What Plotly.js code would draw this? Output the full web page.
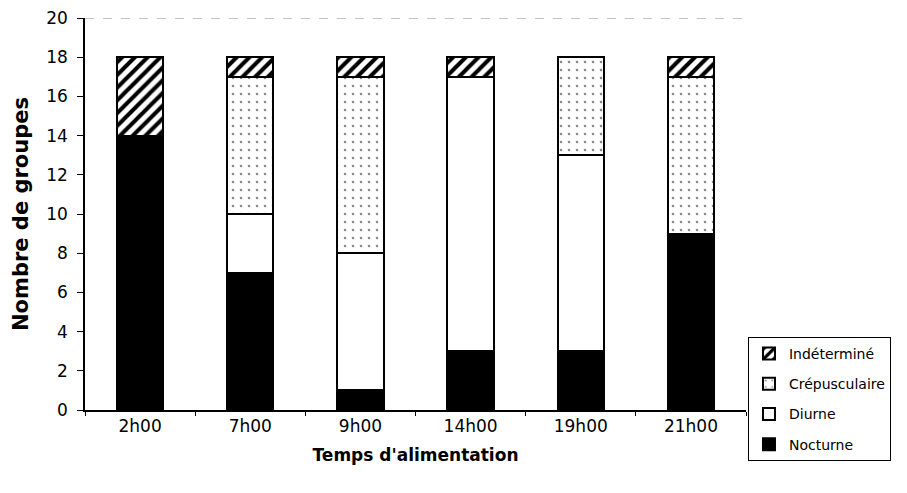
<!DOCTYPE html>
<html><head><meta charset="utf-8">
<script src="https://cdn.plot.ly/plotly-3.0.1.min.js"></script>
<style>body{margin:0;background:#fff}#c{width:907px;height:493px}</style>
</head><body><div id="c"></div>
<script>
const categories = ['2h00','7h00','9h00','14h00','19h00','21h00'];
const nocturne = [14, 7, 1, 3, 3, 9];
const diurne = [0, 3, 7, 14, 10, 0];
const crepusculaire = [0, 7, 9, 0, 5, 8];
const indetermine = [4, 1, 1, 1, 0, 1];

const line = {color:'#000', width:2};
const traces = [
  {name:'Nocturne', legendgroup:'a', legendrank:4, y:nocturne, marker:{color:'#000', line:line}},
  {name:'Diurne', legendgroup:'b', legendrank:3, y:diurne, marker:{color:'#fff', line:line}},
  {name:'Crépusculaire', legendgroup:'c', legendrank:2, y:crepusculaire, marker:{color:'#fff', line:line,
     pattern:{shape:'.', fgcolor:'#888', bgcolor:'#fff', size:8, solidity:0.08}}},
  {name:'Indéterminé', legendgroup:'d', legendrank:1, y:indetermine, marker:{color:'#fff', line:line,
     pattern:{shape:'/', fgcolor:'#000', bgcolor:'#fff', size:9, solidity:0.45}}}
].map(t => Object.assign({type:'bar', x:categories, width:0.42}, t));

const fam = 'DejaVu Sans, Liberation Sans, sans-serif';
const layout = {
  width:907, height:493,
  margin:{l:85, r:161, t:18, b:83},
  barmode:'stack',
  paper_bgcolor:'#fff', plot_bgcolor:'#fff',
  font:{family:fam, size:17, color:'#000'},
  showlegend:true,
  legend:{traceorder:'grouped', x:1.003, xanchor:'left', y:-0.13, yanchor:'bottom',
    bordercolor:'#000', borderwidth:1, font:{family:fam, size:14, color:'#000'},
    itemwidth:30, tracegroupgap:9},
  xaxis:{showline:true, linecolor:'#000', linewidth:1.5, ticks:'outside', ticklen:4,
    tickson:'boundaries', tickcolor:'#000', showgrid:false, zeroline:false,
    tickfont:{family:fam, size:17},
    title:{text:'<b>Temps d\'alimentation</b>', font:{family:fam, size:17}, standoff:14}},
  yaxis:{range:[0,20], dtick:2, showline:true, linecolor:'#000', linewidth:1.5,
    ticks:'outside', ticklen:6, tickcolor:'#000', showgrid:false, zeroline:false,
    ticklabelstandoff:6,
    tickfont:{family:fam, size:17},
    title:{text:'<b>Nombre de groupes</b>', font:{family:fam, size:21}, standoff:12}},
  shapes:[{type:'line', xref:'paper', yref:'y', x0:0, x1:1, y0:20, y1:20,
    line:{color:'#888', width:1, dash:'dash'}}]
};
Plotly.newPlot('c', traces, layout, {displayModeBar:false});
</script></body></html>
